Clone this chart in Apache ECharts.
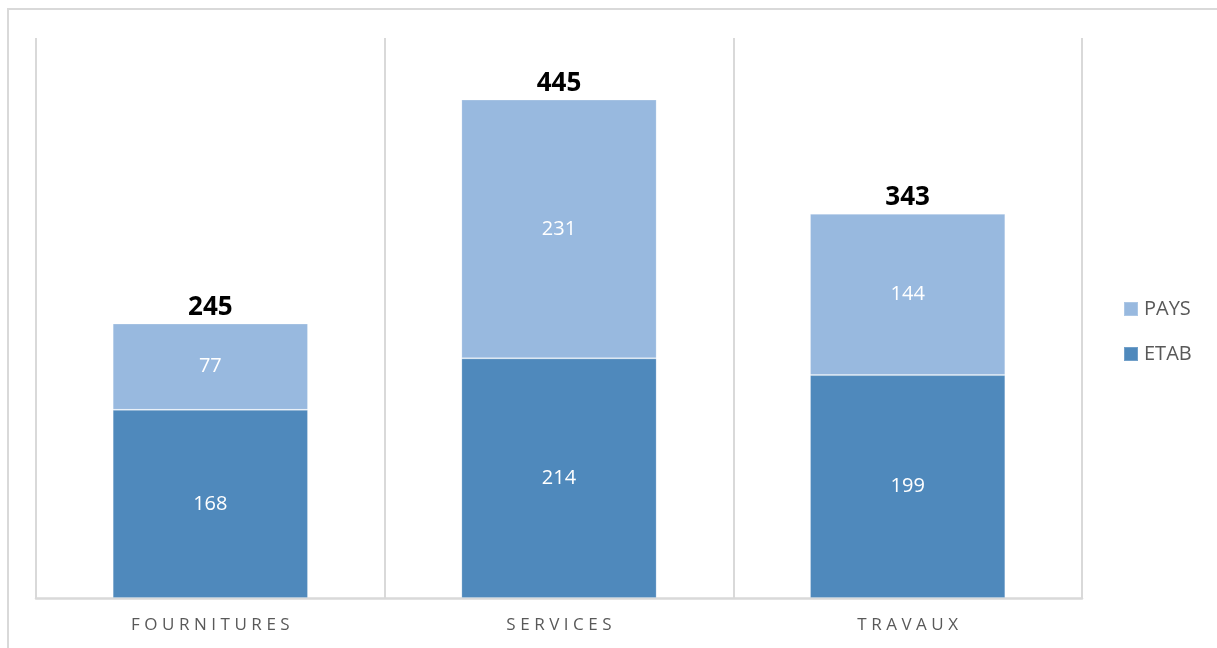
<!DOCTYPE html>
<html>
<head>
<meta charset="utf-8">
<style>
  html, body { margin: 0; padding: 0; background: #ffffff; overflow: hidden; }
  #frame { position: absolute; left: 7px; top: 8px; width: 1300px; height: 700px;
           border: 2px solid #d9d9d9; box-sizing: border-box; pointer-events: none; }
  #chart { position: absolute; left: 0; top: 0; width: 1217px; height: 648px; }
</style>
<script src="https://cdn.jsdelivr.net/npm/echarts@6/dist/echarts.min.js"></script>
</head>
<body>
<div id="frame"></div>
<div id="chart"></div>
<script>
// Marchés par type : part établissement (ETAB) et part pays (PAYS)
const categories = ['FOURNITURES', 'SERVICES', 'TRAVAUX'];
const etab = [168, 214, 199];
const pays = [77, 231, 144];
const totals = categories.map((_, i) => etab[i] + pays[i]);

const FONT = '"Open Sans", "Noto Sans", sans-serif';
// wide tracking for the category names
const spaced = s => s.split('').join('\u2009\u200A');

const chart = echarts.init(document.getElementById('chart'), null, { renderer: 'canvas' });
chart.setOption({
  animation: false,
  backgroundColor: 'transparent',
  textStyle: { fontFamily: FONT },
  grid: { left: 36, right: 135, top: 38, bottom: 50, containLabel: false },
  legend: {
    orient: 'vertical',
    left: 1123,
    top: 299,
    padding: 0,
    itemWidth: 14,
    itemHeight: 14,
    itemGap: 25,
    icon: 'rect',
    data: ['PAYS', 'ETAB'],
    textStyle: { color: '#595959', fontSize: 20, fontFamily: FONT, padding: [0, 0, 0, 1] }
  },
  xAxis: {
    type: 'category',
    data: categories,
    axisTick: { show: false },
    axisLine: { lineStyle: { color: '#d9d9d9', width: 2.5 } },
    splitLine: { show: true, showMinLine: true, showMaxLine: true,
                 lineStyle: { color: '#d9d9d9', width: 2 } },
    axisLabel: { color: '#595959', fontSize: 17, fontFamily: FONT, margin: 19,
                 formatter: v => spaced(v) }
  },
  yAxis: {
    type: 'value', min: 0, max: 500, show: false,
    splitLine: { show: false }
  },
  series: [
    {
      name: 'ETAB', type: 'bar', stack: 'total', data: etab,
      barCategoryGap: '44%',
      itemStyle: { color: '#4f89bc', borderColor: 'rgba(255,255,255,0.2)', borderWidth: 1 },
      label: { show: true, position: 'inside', color: '#ffffff', fontSize: 20, fontFamily: FONT }
    },
    {
      name: 'PAYS', type: 'bar', stack: 'total', data: pays,
      itemStyle: { color: '#98b9df', borderColor: 'rgba(255,255,255,0.2)', borderWidth: 1 },
      label: { show: true, position: 'inside', color: '#ffffff', fontSize: 20, fontFamily: FONT }
    },
    {
      name: 'TOTAL', type: 'bar', stack: 'total', data: totals.map(() => 0),
      itemStyle: { color: 'transparent' },
      label: { show: true, position: 'top', distance: 3, color: '#000000',
               fontSize: 26, fontWeight: 'bold', fontFamily: FONT,
               formatter: p => String(totals[p.dataIndex]) }
    }
  ]
});
</script>
</body>
</html>
